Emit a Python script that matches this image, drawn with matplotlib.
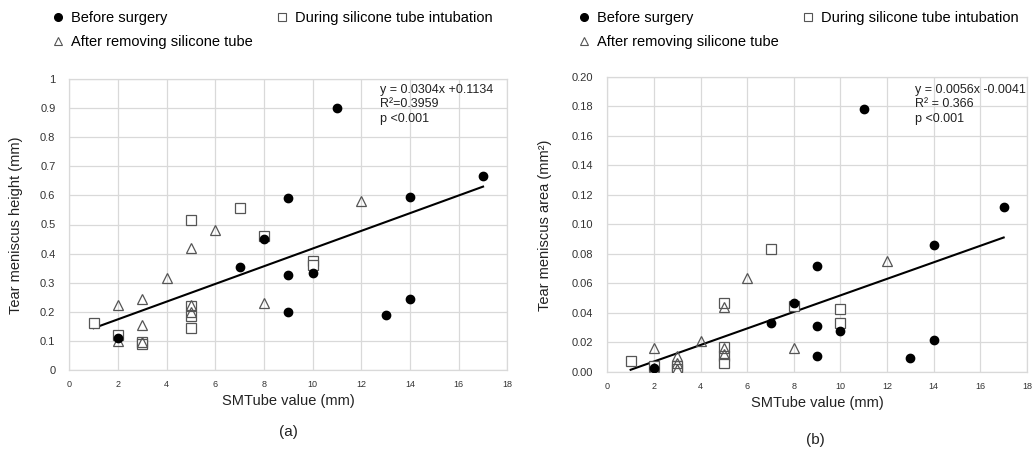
import matplotlib
matplotlib.use("Agg")
import matplotlib.pyplot as plt
from matplotlib.lines import Line2D
from matplotlib.ticker import FuncFormatter
import numpy as np

plt.rcParams['font.family'] = ['Liberation Sans', 'DejaVu Sans']

# ---- data ----
x_before = [2, 7, 8, 9, 9, 9, 10, 11, 13, 14, 14, 17]
x_during = [1, 2, 3, 3, 5, 5, 5, 5, 7, 8, 10, 10]
x_after = [2, 2, 3, 3, 3, 4, 5, 5, 5, 6, 8, 12]

height_before = [0.11, 0.355, 0.45, 0.59, 0.325, 0.20, 0.335, 0.90, 0.19, 0.595, 0.245, 0.665]
height_during = [0.16, 0.12, 0.095, 0.09, 0.515, 0.22, 0.185, 0.145, 0.555, 0.46, 0.375, 0.36]
height_after = [0.225, 0.10, 0.245, 0.155, 0.095, 0.315, 0.42, 0.225, 0.20, 0.48, 0.23, 0.58]

area_before = [0.003, 0.033, 0.047, 0.072, 0.031, 0.011, 0.028, 0.178, 0.0095, 0.086, 0.022, 0.112]
area_during = [0.0075, 0.004, 0.004, 0.002, 0.047, 0.017, 0.011, 0.006, 0.083, 0.045, 0.043, 0.033]
area_after = [0.016, 0.003, 0.011, 0.006, 0.002, 0.021, 0.044, 0.016, 0.012, 0.064, 0.016, 0.075]

fit_height = (0.0304, 0.1134)
fit_area = (0.0056, -0.0041)
fit_range = (1, 17)

labels = ["Before surgery", "During silicone tube intubation", "After removing silicone tube"]
stats_height = ["y = 0.0304x +0.1134", "R\u00b2=0.3959", "p <0.001"]
stats_area = ["y = 0.0056x -0.0041", "R\u00b2 = 0.366", "p <0.001"]

W, H = 1033, 450
fig = plt.figure(figsize=(W / 100, H / 100), dpi=100)

def fx(px):
    return px / W

def fy(py):
    return 1 - py / H

grid_c = '#d9d9d9'
sq_c = '#555555'
tri_c = '#555555'

def panel(rect, yb, yd, ya, fit, ylim, yticks, yfmt, ylabel, stats, stats_xy):
    ax = fig.add_axes(rect)
    ax.set_xlim(0, 18)
    ax.set_ylim(*ylim)
    ax.set_xticks(range(0, 19, 2))
    ax.set_yticks(yticks)
    ax.yaxis.set_major_formatter(FuncFormatter(yfmt))
    ax.grid(True, color=grid_c, lw=0.9)
    ax.set_axisbelow(True)
    for s in ax.spines.values():
        s.set_color(grid_c)
        s.set_linewidth(0.9)
    ax.tick_params(length=0, colors='#333333')
    ax.tick_params(axis='y', labelsize=8, pad=10)
    ax.tick_params(axis='x', labelsize=6.5, pad=7)
    xs = np.array(fit_range)
    ax.plot(xs, fit[0] * xs + fit[1], color='black', lw=1.5, zorder=2)
    ax.plot(x_during, yd, ls='none', marker='s', ms=6.5, mfc='white', mec=sq_c, mew=0.9, zorder=3)
    ax.plot(x_after, ya, ls='none', marker='^', ms=7, mfc='none', mec=tri_c, mew=0.9, zorder=4)
    ax.plot(x_before, yb, ls='none', marker='o', ms=6, mfc='black', mec='black', zorder=5)
    ax.text(stats_xy[0], stats_xy[1], "\n".join(stats), transform=fig.transFigure,
            fontsize=9, va='top', ha='left', linespacing=1.3, color='#222222')
    ax.set_xlabel("SMTube value (mm)", fontsize=10.5, labelpad=4, color='#222222')
    ax.set_ylabel(ylabel, fontsize=10.5, color='#222222')
    return ax

def fmt_h(v, pos):
    if abs(v) < 1e-9:
        return "0"
    if abs(v - 1) < 1e-9:
        return "1"
    return f"{v:.1f}"

def fmt_a(v, pos):
    return f"{v:.2f}"

axL = panel([fx(69.3), fy(370), fx(507.4) - fx(69.3), fy(79) - fy(370)],
            height_before, height_during, height_after, fit_height,
            (0, 1), np.arange(0, 1.01, 0.1), fmt_h,
            "Tear meniscus height (mm)", stats_height, (fx(380), fy(83.5)))
axL.yaxis.set_label_coords(fx(23), 0.5, transform=fig.transFigure)

axR = panel([fx(607.3), fy(372), fx(1027) - fx(607.3), fy(76.7) - fy(372)],
            area_before, area_during, area_after, fit_area,
            (0, 0.2), np.arange(0, 0.201, 0.02), fmt_a,
            "Tear meniscus area (mm\u00b2)", stats_area, (fx(915), fy(83.5)))
axR.yaxis.set_label_coords(fx(552), 0.5, transform=fig.transFigure)

fig.text(fx(288), fy(432), "(a)", fontsize=11, ha='center', va='center', color='#222222')
fig.text(fx(815), fy(440), "(b)", fontsize=11, ha='center', va='center', color='#222222')

handles = [
    Line2D([], [], ls='none', marker='o', ms=5.5, mfc='black', mec='black'),
    Line2D([], [], ls='none', marker='^', ms=5.5, mfc='none', mec=tri_c, mew=0.8),
    Line2D([], [], ls='none', marker='s', ms=5.5, mfc='white', mec=sq_c, mew=0.8),
]
leg_labels = [labels[0], labels[2], labels[1]]
for x0 in (fx(52), fx(578)):
    fig.legend(handles, leg_labels, loc='upper left', bbox_to_anchor=(x0, fy(11)),
               ncol=2, frameon=False, fontsize=10.5, handlelength=0.8,
               handletextpad=0.5, columnspacing=1.6, labelspacing=0.7,
               borderpad=0, borderaxespad=0)

fig.savefig("out.png", dpi=100)
